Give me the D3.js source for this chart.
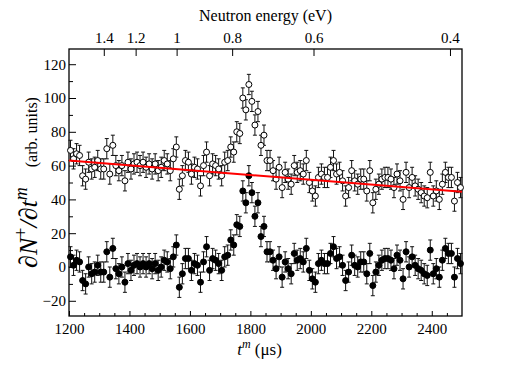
<!DOCTYPE html>
<html>
<head>
<meta charset="utf-8">
<script src="https://cdn.jsdelivr.net/npm/d3@7"></script>
<style>
  svg text { font-family: "Times New Roman", Times, "Liberation Serif", serif; }
</style>
</head>
<body style="margin:0">
<script>
const SERIF = "'Times New Roman', Times, 'Liberation Serif', serif";

// bin centres in microseconds
const times = [
  1205, 1215, 1225, 1235, 1245, 1255, 1265, 1275, 1285, 1295,
  1305, 1315, 1325, 1335, 1345, 1355, 1365, 1375, 1385, 1395,
  1405, 1415, 1425, 1435, 1445, 1455, 1465, 1475, 1485, 1495,
  1505, 1515, 1525, 1535, 1545, 1555, 1565, 1575, 1585, 1595,
  1605, 1615, 1625, 1635, 1645, 1655, 1665, 1675, 1685, 1695,
  1705, 1715, 1725, 1735, 1745, 1755, 1765, 1775, 1785, 1795,
  1805, 1815, 1825, 1835, 1845, 1855, 1865, 1875, 1885, 1895,
  1905, 1915, 1925, 1935, 1945, 1955, 1965, 1975, 1985, 1995,
  2005, 2015, 2025, 2035, 2045, 2055, 2065, 2075, 2085, 2095,
  2105, 2115, 2125, 2135, 2145, 2155, 2165, 2175, 2185, 2195,
  2205, 2215, 2225, 2235, 2245, 2255, 2265, 2275, 2285, 2295,
  2305, 2315, 2325, 2335, 2345, 2355, 2365, 2375, 2385, 2395,
  2405, 2415, 2425, 2435, 2445, 2455, 2465, 2475, 2485, 2495
];

// open circles (raw)
const openVals = [
  69, 64, 67, 66, 54, 52, 62, 58, 59, 63, 58, 58, 70, 55, 72, 60, 57, 60, 51, 62,
  58, 61, 62, 60, 62, 59, 61, 58, 61, 57, 59, 63,
  61, 57, 64, 71, 46, 54, 63, 62, 55, 59, 58, 48, 60, 68, 54, 61, 60, 58, 54, 62,
  63, 71, 68, 80, 79, 100, 93, 108, 98, 84, 92, 72, 78,
  63, 63, 57, 52, 59, 47, 56, 52, 49, 60, 56, 57, 55, 63, 50, 45, 42, 53, 55, 53,
  53, 59, 63, 55, 56, 51, 42, 47, 57, 51, 49, 52,
  52, 45, 57, 38, 46, 49, 52, 53, 53, 52, 47, 55, 51, 40, 56, 47, 53, 48, 46, 44,
  42, 41, 56, 42, 45, 40, 49, 56, 53, 53, 39, 50, 47
];

// filled circles (background subtracted)
const filledVals = [
  6, 1, 4, 3, -8, -10, 0, -4, -3, 1, -3, -3, 9, -6, 11, -1, -4, 0, -9, 2,
  -2, 1, 2, 0, 2, 0, 2, -1, 2, -2, 0, 4,
  3, -1, 6, 13, -12, -4, 5, 5, -2, 2, 1, -9, 3, 12, -2, 5, 4, 2, -2, 6,
  7, 16, 13, 25, 24, 45, 38, 54, 44, 30, 38, 18, 24,
  9, 9, 4, -1, 6, -6, 3, -1, -4, 8, 4, 5, 3, 11, -2, -7, -9, 2, 4, 2,
  2, 8, 12, 5, 6, 1, -8, -3, 7, 1, 0, 3,
  3, -4, 8, -11, -3, 1, 4, 5, 5, 4, -1, 7, 4, -7, 9, 0, 6, 1, -1, -2,
  -4, -5, 10, -4, -1, -6, 4, 11, 8, 8, -6, 5, 2
];

const ERR = 6; // error bar half height

// background fit (red line)
const fitT = [1200, 2500];
const fitV = [63, 44.5];

const xTicks = [1200, 1400, 1600, 1800, 2000, 2200, 2400];
const yTicks = [-20, 0, 20, 40, 60, 80, 100, 120];
const energyTicks = [1.4, 1.2, 1, 0.8, 0.6, 0.4];
const ENERGY_K = 1556; // t (us) = K / sqrt(E in eV)

const FRAME_WIDTH = 518;
const FRAME_HEIGHT = 365;
const MARGINS = {left: 69, right: 56, top: 49, bottom: 49};
const VIS_WIDTH = FRAME_WIDTH - MARGINS.left - MARGINS.right;
const VIS_HEIGHT = FRAME_HEIGHT - MARGINS.top - MARGINS.bottom;

const FRAME = d3.select("body")
  .append("svg")
    .attr("width", FRAME_WIDTH)
    .attr("height", FRAME_HEIGHT)
    .attr("font-family", "Times New Roman");

const X_SCALE = d3.scaleLinear().domain([1200, 2500]).range([0, VIS_WIDTH]);
const Y_SCALE = d3.scaleLinear().domain([-29, 129]).range([VIS_HEIGHT, 0]);

const plot = FRAME.append("g")
  .attr("transform", "translate(" + MARGINS.left + "," + MARGINS.top + ")");

// minor ticks
const xMinor = d3.range(1250, 2500, 50).filter(d => d % 200 !== 0);
const yMinor = d3.range(-20, 130, 10).filter(d => d % 20 !== 0);

plot.append("g")
  .attr("transform", "translate(0," + VIS_HEIGHT + ")")
  .call(d3.axisBottom(X_SCALE).tickValues(xMinor).tickSize(-3).tickFormat(""))
  .call(g => g.select(".domain").remove());

plot.append("g")
  .call(d3.axisLeft(Y_SCALE).tickValues(yMinor).tickSize(-4).tickFormat(""))
  .call(g => g.select(".domain").remove());

// major ticks
plot.append("g")
  .attr("transform", "translate(0," + VIS_HEIGHT + ")")
  .call(d3.axisBottom(X_SCALE).tickValues(xTicks).tickSize(-5).tickPadding(7).tickFormat(d3.format("d")))
  .call(g => g.select(".domain").remove());

plot.append("g")
  .call(d3.axisLeft(Y_SCALE).tickValues(yTicks).tickSize(-7).tickPadding(3)
    .tickFormat(d => d < 0 ? "\u2212" + Math.abs(d) : d))
  .call(g => g.select(".domain").remove());

// top energy axis
plot.append("g")
  .call(d3.axisTop(X_SCALE).tickValues(energyTicks.map(e => ENERGY_K / Math.sqrt(e)))
    .tickSize(-7).tickPadding(6)
    .tickFormat((d, i) => energyTicks[i]))
  .call(g => g.select(".domain").remove());

plot.selectAll(".tick line").attr("stroke", "#000");
plot.selectAll(".tick text")
  .attr("fill", "#000")
  .style("font-family", SERIF)
  .style("font-size", "15px");

// frame
plot.append("rect")
  .attr("width", VIS_WIDTH)
  .attr("height", VIS_HEIGHT)
  .attr("fill", "none")
  .attr("stroke", "#000")
  .attr("stroke-width", 1.3);

// error bars + markers
function drawSeries(vals, fill) {
  const pts = times.map((t, i) => ({t: t, v: vals[i]}));
  const bars = plot.append("g").attr("stroke", "#111").attr("stroke-width", 1);
  pts.forEach(d => {
    const x = X_SCALE(d.t);
    const y0 = Y_SCALE(d.v - ERR), y1 = Y_SCALE(d.v + ERR);
    bars.append("line").attr("x1", x).attr("x2", x).attr("y1", y0).attr("y2", y1);
    bars.append("line").attr("x1", x - 2).attr("x2", x + 2).attr("y1", y0).attr("y2", y0);
    bars.append("line").attr("x1", x - 2).attr("x2", x + 2).attr("y1", y1).attr("y2", y1);
  });
  plot.append("g").selectAll("circle")
    .data(pts)
    .enter()
    .append("circle")
      .attr("cx", d => X_SCALE(d.t))
      .attr("cy", d => Y_SCALE(d.v))
      .attr("r", 3)
      .attr("fill", fill)
      .attr("stroke", "#000")
      .attr("stroke-width", 1);
}

drawSeries(filledVals, "#000");
drawSeries(openVals, "#fff");

// red fit line
plot.append("path")
  .datum(fitT.map((t, i) => ({t: t, v: fitV[i]})))
  .attr("d", d3.line().x(d => X_SCALE(d.t)).y(d => Y_SCALE(d.v)))
  .attr("stroke", "#ff0000")
  .attr("stroke-width", 2)
  .attr("fill", "none");

// titles
FRAME.append("text")
  .attr("x", MARGINS.left + VIS_WIDTH / 2)
  .attr("y", 21)
  .attr("text-anchor", "middle")
  .style("font-family", SERIF)
  .style("font-size", "16px")
  .text("Neutron energy (eV)");

const xl = FRAME.append("text")
  .attr("x", MARGINS.left + VIS_WIDTH / 2 - 6)
  .attr("y", 355)
  .attr("text-anchor", "middle")
  .style("font-family", SERIF)
  .style("font-size", "17px");
xl.append("tspan").style("font-style", "italic").text("t");
xl.append("tspan").attr("dy", -7).style("font-size", "12px").style("font-style", "italic").text("m");
xl.append("tspan").attr("dy", 7).text(" (\u03bcs)");

const yl = FRAME.append("text")
  .attr("transform", "translate(37," + (MARGINS.top + VIS_HEIGHT / 2) + ") rotate(-90)")
  .attr("text-anchor", "middle")
  .style("font-family", SERIF)
  .style("font-size", "26px");
yl.append("tspan").style("font-style", "italic").text("\u2202N");
yl.append("tspan").attr("dy", -10).style("font-size", "18px").text("+");
yl.append("tspan").attr("dy", 10).style("font-style", "italic").text("/\u2202t");
yl.append("tspan").attr("dy", -10).style("font-size", "18px").style("font-style", "italic").text("m");
yl.append("tspan").attr("dy", 10).style("font-size", "16px").text("\u2003 (arb. units)");
</script>
</body>
</html>
